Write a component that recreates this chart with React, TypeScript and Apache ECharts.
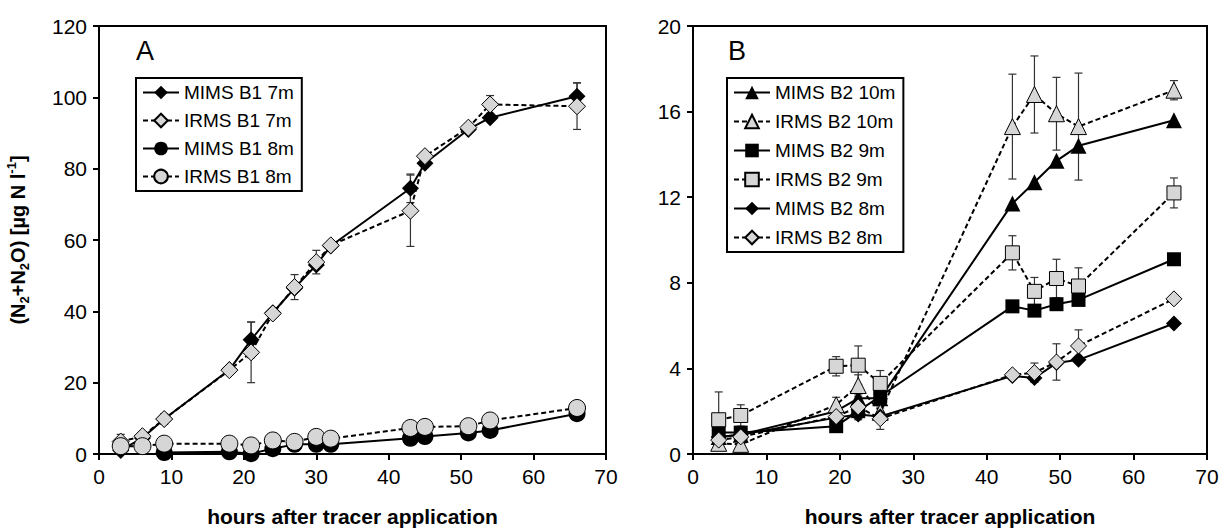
import React, { useEffect, useRef } from "react";
import * as echarts from "echarts";

const FONT = "'Liberation Sans', Arial, Helvetica, sans-serif";

// ---------- Panel A data ----------
const hoursA = [3, 6, 9, 18, 21, 24, 27, 30, 32, 43, 45, 51, 54, 66];
const mimsB1_7m = [1.0, 4.5, 9.8, 23.6, 32.0, 39.6, 46.5, 53.0, 58.3, 74.5, 81.5, 91.0, 94.3, 100.3];
const mimsB1_7mErr = [0, 0, 0, 0, 5.0, 0, 0, 0, 0, 4.0, 0, 0, 0, 3.8];
const irmsB1_7m = [3.5, 5.0, 9.8, 23.5, 28.5, 39.4, 46.8, 53.8, 58.5, 68.2, 83.5, 91.5, 98.0, 97.5];
const irmsB1_7mErr = [2.0, 0.8, 1.5, 0.8, 8.5, 1.0, 3.5, 3.3, 0.8, 10.0, 1.2, 1.0, 2.5, 6.5];
const mimsB1_8m = [null, null, 0.4, 0.6, 0.1, 1.5, 2.7, 2.7, 2.7, 4.4, 4.9, 5.9, 6.6, 11.3];
const irmsB1_8m = [2.2, 2.2, 2.9, 2.9, 2.4, 3.8, 3.4, 4.8, 4.3, 7.3, 7.6, 7.8, 9.4, 12.9];

// ---------- Panel B data ----------
const hoursB = [3.5, 6.5, 19.5, 22.5, 25.5, 43.5, 46.5, 49.5, 52.5, 65.5];
const mimsB2_10m = [0.8, 0.9, 2.0, 2.6, 2.6, 11.7, 12.7, 13.7, 14.4, 15.6];
const irmsB2_10m = [0.5, 0.45, 2.3, 3.2, 1.95, 15.3, 16.8, 15.9, 15.3, 17.0];
const irmsB2_10mErr = [0.3, 0.2, 0.35, 0.5, 0.3, 2.45, 1.8, 1.7, 2.5, 0.45];
const mimsB2_9m = [1.0, 1.0, 1.3, 2.0, 2.7, 6.9, 6.7, 7.0, 7.2, 9.1];
const irmsB2_9m = [1.6, 1.8, 4.1, 4.15, 3.3, 9.4, 7.6, 8.2, 7.85, 12.2];
const irmsB2_9mErr = [1.3, 0.5, 0.45, 0.9, 0.6, 0.8, 0.65, 0.9, 0.85, 0.7];
const mimsB2_8m = [0.8, 0.9, 1.7, 1.85, 1.75, 3.65, 3.55, 4.25, 4.4, 6.1];
const irmsB2_8m = [0.65, 0.8, 1.75, 2.2, 1.65, 3.7, 3.8, 4.3, 5.05, 7.25];
const irmsB2_8mErr = [0.2, 0.2, 0.3, 0.6, 0.5, 0.2, 0.45, 0.85, 0.75, 0.2];

// ---------- Axis ticks / labels ----------
const xTicks = { min: 0, max: 70, interval: 10 };
const yTicksA = { min: 0, max: 120, interval: 20 };
const yTicksB = { min: 0, max: 20, interval: 4 };
const xTitle = "hours after tracer application";
const namesA = ["MIMS B1 7m", "IRMS B1 7m", "MIMS B1 8m", "IRMS B1 8m"];
const namesB = ["MIMS B2 10m", "IRMS B2 10m", "MIMS B2 9m", "IRMS B2 9m", "MIMS B2 8m", "IRMS B2 8m"];

const GRAY = "#d6d6d6";

function pairs(xs: number[], ys: (number | null)[]) {
  const out: number[][] = [];
  xs.forEach((x, i) => {
    const y = ys[i];
    if (y !== null && y !== undefined) out.push([x, y]);
  });
  return out;
}

function lineSeries(
  name: string,
  xs: number[],
  ys: (number | null)[],
  symbol: string,
  filled: boolean,
  dashed: boolean,
  idx: number,
  size: number,
  z: number
) {
  return {
    type: "line",
    name,
    xAxisIndex: idx,
    yAxisIndex: idx,
    data: pairs(xs, ys),
    symbol,
    symbolSize: size,
    showSymbol: true,
    z,
    itemStyle: { color: filled ? "#000" : GRAY, borderColor: "#000", borderWidth: filled ? 0 : 1 },
    lineStyle: { color: "#000", width: 2, type: dashed ? [5, 3] : "solid" },
    emphasis: { disabled: true },
  };
}

function errSeries(xs: number[], ys: (number | null)[], es: number[], idx: number, z: number) {
  const data: number[][] = [];
  xs.forEach((x, i) => {
    const y = ys[i];
    if (y === null || y === undefined || !es[i]) return;
    data.push([x, y - es[i], y + es[i]]);
  });
  return {
    type: "custom",
    xAxisIndex: idx,
    yAxisIndex: idx,
    silent: true,
    z,
    encode: { x: 0, y: [1, 2] },
    data,
    renderItem: (_p: any, api: any) => {
      const x = api.value(0);
      const lo = api.coord([x, api.value(1)]);
      const hi = api.coord([x, api.value(2)]);
      const w = 4;
      const st = { stroke: "#333", lineWidth: 1.2 };
      return {
        type: "group",
        children: [
          { type: "line", shape: { x1: lo[0], y1: lo[1], x2: hi[0], y2: hi[1] }, style: st },
          { type: "line", shape: { x1: lo[0] - w, y1: lo[1], x2: lo[0] + w, y2: lo[1] }, style: st },
          { type: "line", shape: { x1: hi[0] - w, y1: hi[1], x2: hi[0] + w, y2: hi[1] }, style: st },
        ],
      };
    },
  };
}

function xAxis(idx: number) {
  return {
    type: "value",
    gridIndex: idx,
    ...xTicks,
    name: xTitle,
    nameLocation: "middle",
    nameGap: 52,
    nameTextStyle: { fontSize: 21, fontWeight: "bold", color: "#000", fontFamily: FONT },
    axisLine: { show: true, lineStyle: { color: "#000", width: 2 } },
    axisTick: { show: true, inside: false, length: 6, lineStyle: { color: "#000", width: 2 } },
    axisLabel: { fontSize: 21, color: "#000", fontFamily: FONT, margin: 12 },
    splitLine: { show: false },
  };
}

function yAxis(idx: number, t: any, withName: boolean) {
  const a: any = {
    type: "value",
    gridIndex: idx,
    ...t,
    axisLine: { show: true, lineStyle: { color: "#000", width: 2 } },
    axisTick: { show: true, inside: false, length: 6, lineStyle: { color: "#000", width: 2 } },
    axisLabel: { fontSize: 21, color: "#000", fontFamily: FONT, margin: 12 },
    splitLine: { show: false },
  };
  if (withName) {
    a.name = "{a|(N}{s|2}{a|+N}{s|2}{a|O) [µg N l}{p|-1}{a|]}";
    a.nameLocation = "middle";
    a.nameGap = 68;
    a.nameRotate = 90;
    a.nameTextStyle = {
      fontFamily: FONT,
      rich: {
        a: { fontSize: 20, fontWeight: "bold", color: "#000", fontFamily: FONT, lineHeight: 26, verticalAlign: "middle" },
        s: { fontSize: 13, fontWeight: "bold", color: "#000", fontFamily: FONT, lineHeight: 26, verticalAlign: "bottom" },
        p: { fontSize: 13, fontWeight: "bold", color: "#000", fontFamily: FONT, lineHeight: 26, verticalAlign: "top" },
      },
    };
  }
  return a;
}

function legend(names: string[], left: number, gap: number) {
  return {
    data: names,
    left,
    top: 78,
    orient: "vertical",
    borderColor: "#000",
    borderWidth: 2,
    backgroundColor: "#fff",
    padding: [4, 8, 4, 6],
    itemGap: gap,
    itemWidth: 36,
    itemHeight: 17,
    selectedMode: false,
    textStyle: { fontSize: 19, color: "#000", fontFamily: FONT, lineHeight: 21 },
  };
}

export default function App() {
  const ref = useRef<HTMLDivElement>(null);
  useEffect(() => {
    if (!ref.current) return;
    const chart = echarts.init(ref.current, null, { renderer: "svg" });
    const option: any = {
      animation: false,
      backgroundColor: "#fff",
      textStyle: { fontFamily: FONT },
      grid: [
        { left: 99, top: 26, width: 507, height: 432, show: true, borderColor: "#000", borderWidth: 2, backgroundColor: "transparent" },
        { left: 693, top: 26, width: 514, height: 432, show: true, borderColor: "#000", borderWidth: 2, backgroundColor: "transparent" },
      ],
      xAxis: [xAxis(0), xAxis(1)],
      yAxis: [yAxis(0, yTicksA, true), yAxis(1, yTicksB, false)],
      legend: [legend(namesA, 136, 7), legend(namesB, 727, 8)],
      graphic: [
        { type: "text", left: 136, top: 37, style: { text: "A", fontSize: 27, fill: "#000", fontFamily: FONT } },
        { type: "text", left: 728, top: 37, style: { text: "B", fontSize: 27, fill: "#000", fontFamily: FONT } },
      ],
      series: [
        errSeries(hoursA, mimsB1_7m, mimsB1_7mErr, 0, 1),
        errSeries(hoursA, irmsB1_7m, irmsB1_7mErr, 0, 1),
        lineSeries(namesA[0], hoursA, mimsB1_7m, "diamond", true, false, 0, 17, 2),
        lineSeries(namesA[1], hoursA, irmsB1_7m, "diamond", false, true, 0, 17, 3),
        lineSeries(namesA[2], hoursA, mimsB1_8m, "circle", true, false, 0, 17, 4),
        lineSeries(namesA[3], hoursA, irmsB1_8m, "circle", false, true, 0, 17, 5),

        errSeries(hoursB, irmsB2_10m, irmsB2_10mErr, 1, 1),
        errSeries(hoursB, irmsB2_9m, irmsB2_9mErr, 1, 1),
        errSeries(hoursB, irmsB2_8m, irmsB2_8mErr, 1, 1),
        lineSeries(namesB[0], hoursB, mimsB2_10m, "triangle", true, false, 1, 16, 2),
        lineSeries(namesB[1], hoursB, irmsB2_10m, "triangle", false, true, 1, 16, 3),
        lineSeries(namesB[2], hoursB, mimsB2_9m, "rect", true, false, 1, 14, 4),
        lineSeries(namesB[3], hoursB, irmsB2_9m, "rect", false, true, 1, 14, 5),
        lineSeries(namesB[4], hoursB, mimsB2_8m, "diamond", true, false, 1, 16, 6),
        lineSeries(namesB[5], hoursB, irmsB2_8m, "diamond", false, true, 1, 16, 7),
      ],
    };
    chart.setOption(option);
    return () => chart.dispose();
  }, []);
  return (
    <div
      ref={ref}
      style={{ position: "fixed", left: 0, top: 0, width: 1229, height: 532, background: "#fff" }}
    />
  );
}
